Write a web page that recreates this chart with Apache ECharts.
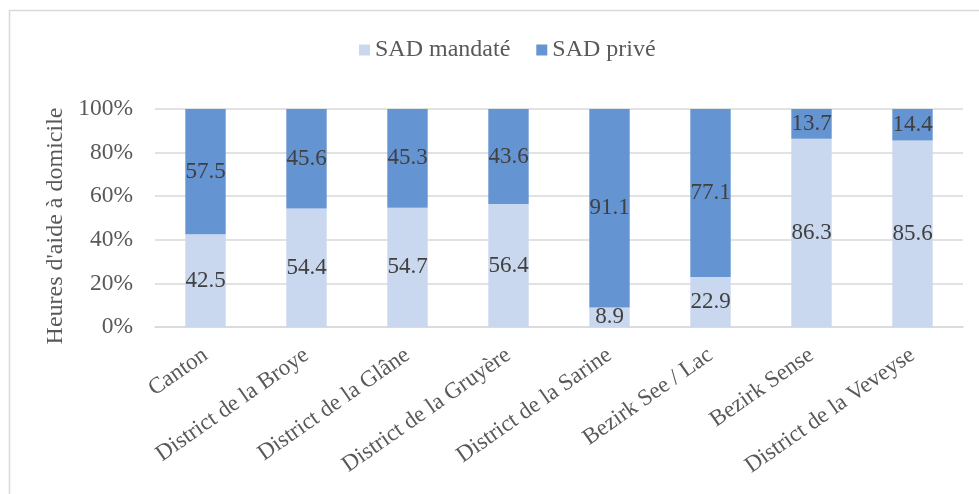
<!DOCTYPE html>
<html>
<head>
<meta charset="utf-8">
<script src="https://cdn.jsdelivr.net/npm/echarts@6/dist/echarts.min.js"></script>
<style>
  html, body { margin: 0; padding: 0; background: #fff; }
  #chart { width: 979px; height: 494px; }
</style>
</head>
<body>
<div id="chart"></div>
<script>
// Regions shown on the x axis
const categories = [
  'Canton',
  'District de la Broye',
  'District de la Glâne',
  'District de la Gruyère',
  'District de la Sarine',
  'Bezirk See / Lac',
  'Bezirk Sense',
  'District de la Veveyse'
];
// Share of home-care hours (%) per provider type
const sadMandate = [42.5, 54.4, 54.7, 56.4, 8.9, 22.9, 86.3, 85.6];
const sadPrive   = [57.5, 45.6, 45.3, 43.6, 91.1, 77.1, 13.7, 14.4];
const yTicks = [0, 20, 40, 60, 80, 100];

const FONT = '"Liberation Serif", "Times New Roman", serif';
const TEXT = '#595959';

const chart = echarts.init(document.getElementById('chart'), null, { renderer: 'canvas' });

const labelStyle = {
  show: true,
  position: 'inside',
  fontFamily: FONT,
  fontSize: 23,
  color: '#404040',
  formatter: p => p.value.toFixed(1)
};

chart.setOption({
  animation: false,
  backgroundColor: '#fff',
  graphic: [
    { type: 'line', shape: { x1: 9, y1: 10.5, x2: 979, y2: 10.5 }, style: { stroke: '#d9d9d9', lineWidth: 1.5 } },
    { type: 'line', shape: { x1: 9.5, y1: 10, x2: 9.5, y2: 494 }, style: { stroke: '#d9d9d9', lineWidth: 1.5 } }
  ],
  legend: {
    top: 33,
    left: 354,
    itemWidth: 11,
    itemHeight: 11,
    itemGap: 26,
    icon: 'rect',
    textStyle: { fontFamily: FONT, fontSize: 24, color: TEXT },
    data: ['SAD mandaté', 'SAD privé']
  },
  grid: { left: 155, right: 16, top: 109, bottom: 167 },
  xAxis: {
    type: 'category',
    data: categories,
    axisLine: { lineStyle: { color: '#d9d9d9', width: 1.5 } },
    axisTick: { show: false },
    axisLabel: {
      rotate: 35,
      interval: 0,
      margin: 26,
      fontFamily: FONT,
      fontSize: 23,
      color: TEXT
    }
  },
  yAxis: {
    type: 'value',
    min: 0,
    max: 100,
    interval: 20,
    name: "Heures d'aide à domicile",
    nameLocation: 'middle',
    nameGap: 84,
    nameTextStyle: { fontFamily: FONT, fontSize: 24, color: TEXT, padding: [0, 16, 0, 0] },
    axisLine: { show: false },
    axisTick: { show: false },
    splitLine: { lineStyle: { color: '#d9d9d9', width: 1.5 } },
    axisLabel: {
      margin: 22,
      fontFamily: FONT,
      fontSize: 23.5,
      color: TEXT,
      formatter: v => (yTicks.includes(v) ? v + '%' : '')
    }
  },
  series: [
    {
      name: 'SAD mandaté',
      type: 'bar',
      stack: 'total',
      barWidth: '40%',
      itemStyle: { color: '#c9d8ee' },
      label: labelStyle,
      data: sadMandate
    },
    {
      name: 'SAD privé',
      type: 'bar',
      stack: 'total',
      barWidth: '40%',
      itemStyle: { color: '#6594d2' },
      label: labelStyle,
      data: sadPrive
    }
  ]
});
</script>
</body>
</html>
